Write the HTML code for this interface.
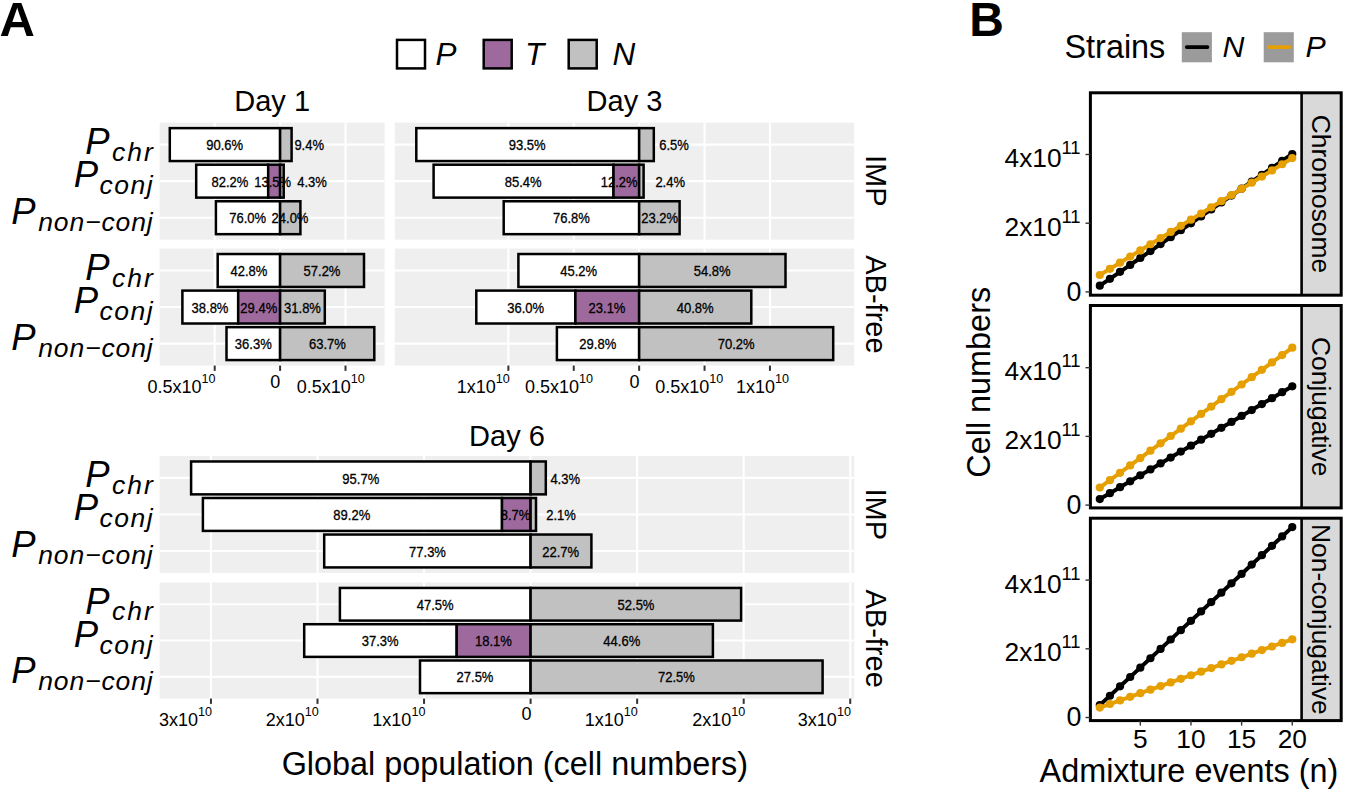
<!DOCTYPE html>
<html><head><meta charset="utf-8"><style>
html,body{margin:0;padding:0;background:#fff;}
svg{display:block;}
text{font-family:"Liberation Sans", sans-serif;fill:#000;}
</style></head><body>
<svg width="1345" height="789" viewBox="0 0 1345 789">
<rect width="1345" height="789" fill="#fff"/>
<text x="-0.40" y="35.70" font-size="49" text-anchor="start" font-weight="bold">A</text>
<rect x="397.0" y="39.9" width="28" height="28.5" fill="#FFFFFF" stroke="#000" stroke-width="2.5"/>
<text x="435.50" y="65.00" font-size="31.5" text-anchor="start" font-style="italic">P</text>
<rect x="483.7" y="39.9" width="28" height="28.5" fill="#9E6A9E" stroke="#000" stroke-width="2.5"/>
<text x="524.90" y="65.00" font-size="31.5" text-anchor="start" font-style="italic">T</text>
<rect x="568.7" y="39.9" width="28" height="28.5" fill="#C1C1C1" stroke="#000" stroke-width="2.5"/>
<text x="612.40" y="65.00" font-size="31.5" text-anchor="start" font-style="italic">N</text>
<rect x="159.6" y="122.65" width="225.00" height="117.00" fill="#EFEFEF"/>
<line x1="159.6" x2="384.6" y1="144.59" y2="144.59" stroke="#fff" stroke-width="2.1"/>
<line x1="159.6" x2="384.6" y1="181.15" y2="181.15" stroke="#fff" stroke-width="2.1"/>
<line x1="159.6" x2="384.6" y1="217.71" y2="217.71" stroke="#fff" stroke-width="2.1"/>
<line x1="214.70" x2="214.70" y1="122.65" y2="239.65" stroke="#fff" stroke-width="2.1"/>
<line x1="280.10" x2="280.10" y1="122.65" y2="239.65" stroke="#fff" stroke-width="2.1"/>
<line x1="345.50" x2="345.50" y1="122.65" y2="239.65" stroke="#fff" stroke-width="2.1"/>
<rect x="169.80" y="128.13" width="110.30" height="32.91" fill="#fff" stroke="#000" stroke-width="2.5"/>
<rect x="280.10" y="128.13" width="11.50" height="32.91" fill="#C1C1C1" stroke="#000" stroke-width="2.5"/>
<rect x="196.20" y="164.70" width="72.00" height="32.91" fill="#fff" stroke="#000" stroke-width="2.5"/>
<rect x="268.20" y="164.70" width="11.90" height="32.91" fill="#9E6A9E" stroke="#000" stroke-width="2.5"/>
<rect x="280.10" y="164.70" width="3.60" height="32.91" fill="#C1C1C1" stroke="#000" stroke-width="2.5"/>
<rect x="215.90" y="201.26" width="64.20" height="32.91" fill="#fff" stroke="#000" stroke-width="2.5"/>
<rect x="280.10" y="201.26" width="20.30" height="32.91" fill="#C1C1C1" stroke="#000" stroke-width="2.5"/>
<text transform="translate(224.60,150.19) scale(0.93,1)" font-size="14" text-anchor="middle" stroke="#000" stroke-width="0.3">90.6%</text>
<text transform="translate(309.20,150.19) scale(0.93,1)" font-size="14" text-anchor="middle" stroke="#000" stroke-width="0.3">9.4%</text>
<text transform="translate(229.90,186.75) scale(0.93,1)" font-size="14" text-anchor="middle" stroke="#000" stroke-width="0.3">82.2%</text>
<text transform="translate(272.60,186.75) scale(0.93,1)" font-size="14" text-anchor="middle" stroke="#000" stroke-width="0.3">13.5%</text>
<text transform="translate(312.10,186.75) scale(0.93,1)" font-size="14" text-anchor="middle" stroke="#000" stroke-width="0.3">4.3%</text>
<text transform="translate(247.70,223.31) scale(0.93,1)" font-size="14" text-anchor="middle" stroke="#000" stroke-width="0.3">76.0%</text>
<text transform="translate(290.00,223.31) scale(0.93,1)" font-size="14" text-anchor="middle" stroke="#000" stroke-width="0.3">24.0%</text>
<rect x="159.6" y="248.55" width="225.00" height="117.00" fill="#EFEFEF"/>
<line x1="159.6" x2="384.6" y1="270.49" y2="270.49" stroke="#fff" stroke-width="2.1"/>
<line x1="159.6" x2="384.6" y1="307.05" y2="307.05" stroke="#fff" stroke-width="2.1"/>
<line x1="159.6" x2="384.6" y1="343.61" y2="343.61" stroke="#fff" stroke-width="2.1"/>
<line x1="214.70" x2="214.70" y1="248.55" y2="365.55" stroke="#fff" stroke-width="2.1"/>
<line x1="280.10" x2="280.10" y1="248.55" y2="365.55" stroke="#fff" stroke-width="2.1"/>
<line x1="345.50" x2="345.50" y1="248.55" y2="365.55" stroke="#fff" stroke-width="2.1"/>
<rect x="217.70" y="254.03" width="62.40" height="32.91" fill="#fff" stroke="#000" stroke-width="2.5"/>
<rect x="280.10" y="254.03" width="83.90" height="32.91" fill="#C1C1C1" stroke="#000" stroke-width="2.5"/>
<rect x="182.40" y="290.60" width="55.80" height="32.91" fill="#fff" stroke="#000" stroke-width="2.5"/>
<rect x="238.20" y="290.60" width="41.90" height="32.91" fill="#9E6A9E" stroke="#000" stroke-width="2.5"/>
<rect x="280.10" y="290.60" width="44.70" height="32.91" fill="#C1C1C1" stroke="#000" stroke-width="2.5"/>
<rect x="226.50" y="327.16" width="53.60" height="32.91" fill="#fff" stroke="#000" stroke-width="2.5"/>
<rect x="280.10" y="327.16" width="94.20" height="32.91" fill="#C1C1C1" stroke="#000" stroke-width="2.5"/>
<text transform="translate(248.90,276.09) scale(0.93,1)" font-size="14" text-anchor="middle" stroke="#000" stroke-width="0.3">42.8%</text>
<text transform="translate(322.00,276.09) scale(0.93,1)" font-size="14" text-anchor="middle" stroke="#000" stroke-width="0.3">57.2%</text>
<text transform="translate(210.00,312.65) scale(0.93,1)" font-size="14" text-anchor="middle" stroke="#000" stroke-width="0.3">38.8%</text>
<text transform="translate(258.80,312.65) scale(0.93,1)" font-size="14" text-anchor="middle" stroke="#000" stroke-width="0.3">29.4%</text>
<text transform="translate(302.50,312.65) scale(0.93,1)" font-size="14" text-anchor="middle" stroke="#000" stroke-width="0.3">31.8%</text>
<text transform="translate(253.30,349.21) scale(0.93,1)" font-size="14" text-anchor="middle" stroke="#000" stroke-width="0.3">36.3%</text>
<text transform="translate(327.40,349.21) scale(0.93,1)" font-size="14" text-anchor="middle" stroke="#000" stroke-width="0.3">63.7%</text>
<rect x="394.8" y="122.65" width="459.40" height="117.00" fill="#EFEFEF"/>
<line x1="394.8" x2="854.2" y1="144.59" y2="144.59" stroke="#fff" stroke-width="2.1"/>
<line x1="394.8" x2="854.2" y1="181.15" y2="181.15" stroke="#fff" stroke-width="2.1"/>
<line x1="394.8" x2="854.2" y1="217.71" y2="217.71" stroke="#fff" stroke-width="2.1"/>
<line x1="508.35" x2="508.35" y1="122.65" y2="239.65" stroke="#fff" stroke-width="2.1"/>
<line x1="573.75" x2="573.75" y1="122.65" y2="239.65" stroke="#fff" stroke-width="2.1"/>
<line x1="639.15" x2="639.15" y1="122.65" y2="239.65" stroke="#fff" stroke-width="2.1"/>
<line x1="704.55" x2="704.55" y1="122.65" y2="239.65" stroke="#fff" stroke-width="2.1"/>
<line x1="769.95" x2="769.95" y1="122.65" y2="239.65" stroke="#fff" stroke-width="2.1"/>
<rect x="416.30" y="128.13" width="222.85" height="32.91" fill="#fff" stroke="#000" stroke-width="2.5"/>
<rect x="639.15" y="128.13" width="14.65" height="32.91" fill="#C1C1C1" stroke="#000" stroke-width="2.5"/>
<rect x="433.60" y="164.70" width="179.90" height="32.91" fill="#fff" stroke="#000" stroke-width="2.5"/>
<rect x="613.50" y="164.70" width="25.65" height="32.91" fill="#9E6A9E" stroke="#000" stroke-width="2.5"/>
<rect x="639.15" y="164.70" width="4.45" height="32.91" fill="#C1C1C1" stroke="#000" stroke-width="2.5"/>
<rect x="503.70" y="201.26" width="135.45" height="32.91" fill="#fff" stroke="#000" stroke-width="2.5"/>
<rect x="639.15" y="201.26" width="40.45" height="32.91" fill="#C1C1C1" stroke="#000" stroke-width="2.5"/>
<text transform="translate(527.20,150.19) scale(0.93,1)" font-size="14" text-anchor="middle" stroke="#000" stroke-width="0.3">93.5%</text>
<text transform="translate(674.00,150.19) scale(0.93,1)" font-size="14" text-anchor="middle" stroke="#000" stroke-width="0.3">6.5%</text>
<text transform="translate(523.20,186.75) scale(0.93,1)" font-size="14" text-anchor="middle" stroke="#000" stroke-width="0.3">85.4%</text>
<text transform="translate(619.10,186.75) scale(0.93,1)" font-size="14" text-anchor="middle" stroke="#000" stroke-width="0.3">12.2%</text>
<text transform="translate(670.20,186.75) scale(0.93,1)" font-size="14" text-anchor="middle" stroke="#000" stroke-width="0.3">2.4%</text>
<text transform="translate(571.40,223.31) scale(0.93,1)" font-size="14" text-anchor="middle" stroke="#000" stroke-width="0.3">76.8%</text>
<text transform="translate(659.60,223.31) scale(0.93,1)" font-size="14" text-anchor="middle" stroke="#000" stroke-width="0.3">23.2%</text>
<rect x="394.8" y="248.55" width="459.40" height="117.00" fill="#EFEFEF"/>
<line x1="394.8" x2="854.2" y1="270.49" y2="270.49" stroke="#fff" stroke-width="2.1"/>
<line x1="394.8" x2="854.2" y1="307.05" y2="307.05" stroke="#fff" stroke-width="2.1"/>
<line x1="394.8" x2="854.2" y1="343.61" y2="343.61" stroke="#fff" stroke-width="2.1"/>
<line x1="508.35" x2="508.35" y1="248.55" y2="365.55" stroke="#fff" stroke-width="2.1"/>
<line x1="573.75" x2="573.75" y1="248.55" y2="365.55" stroke="#fff" stroke-width="2.1"/>
<line x1="639.15" x2="639.15" y1="248.55" y2="365.55" stroke="#fff" stroke-width="2.1"/>
<line x1="704.55" x2="704.55" y1="248.55" y2="365.55" stroke="#fff" stroke-width="2.1"/>
<line x1="769.95" x2="769.95" y1="248.55" y2="365.55" stroke="#fff" stroke-width="2.1"/>
<rect x="518.40" y="254.03" width="120.75" height="32.91" fill="#fff" stroke="#000" stroke-width="2.5"/>
<rect x="639.15" y="254.03" width="146.35" height="32.91" fill="#C1C1C1" stroke="#000" stroke-width="2.5"/>
<rect x="476.30" y="290.60" width="99.10" height="32.91" fill="#fff" stroke="#000" stroke-width="2.5"/>
<rect x="575.40" y="290.60" width="63.75" height="32.91" fill="#9E6A9E" stroke="#000" stroke-width="2.5"/>
<rect x="639.15" y="290.60" width="112.15" height="32.91" fill="#C1C1C1" stroke="#000" stroke-width="2.5"/>
<rect x="556.90" y="327.16" width="82.25" height="32.91" fill="#fff" stroke="#000" stroke-width="2.5"/>
<rect x="639.15" y="327.16" width="194.05" height="32.91" fill="#C1C1C1" stroke="#000" stroke-width="2.5"/>
<text transform="translate(578.70,276.09) scale(0.93,1)" font-size="14" text-anchor="middle" stroke="#000" stroke-width="0.3">45.2%</text>
<text transform="translate(712.20,276.09) scale(0.93,1)" font-size="14" text-anchor="middle" stroke="#000" stroke-width="0.3">54.8%</text>
<text transform="translate(525.70,312.65) scale(0.93,1)" font-size="14" text-anchor="middle" stroke="#000" stroke-width="0.3">36.0%</text>
<text transform="translate(607.00,312.65) scale(0.93,1)" font-size="14" text-anchor="middle" stroke="#000" stroke-width="0.3">23.1%</text>
<text transform="translate(695.20,312.65) scale(0.93,1)" font-size="14" text-anchor="middle" stroke="#000" stroke-width="0.3">40.8%</text>
<text transform="translate(597.80,349.21) scale(0.93,1)" font-size="14" text-anchor="middle" stroke="#000" stroke-width="0.3">29.8%</text>
<text transform="translate(736.10,349.21) scale(0.93,1)" font-size="14" text-anchor="middle" stroke="#000" stroke-width="0.3">70.2%</text>
<rect x="159.6" y="456.0" width="694.70" height="116.90" fill="#EFEFEF"/>
<line x1="159.6" x2="854.3" y1="477.92" y2="477.92" stroke="#fff" stroke-width="2.1"/>
<line x1="159.6" x2="854.3" y1="514.45" y2="514.45" stroke="#fff" stroke-width="2.1"/>
<line x1="159.6" x2="854.3" y1="550.98" y2="550.98" stroke="#fff" stroke-width="2.1"/>
<line x1="210.95" x2="210.95" y1="456.0" y2="572.9" stroke="#fff" stroke-width="2.1"/>
<line x1="317.50" x2="317.50" y1="456.0" y2="572.9" stroke="#fff" stroke-width="2.1"/>
<line x1="424.05" x2="424.05" y1="456.0" y2="572.9" stroke="#fff" stroke-width="2.1"/>
<line x1="530.60" x2="530.60" y1="456.0" y2="572.9" stroke="#fff" stroke-width="2.1"/>
<line x1="637.15" x2="637.15" y1="456.0" y2="572.9" stroke="#fff" stroke-width="2.1"/>
<line x1="743.70" x2="743.70" y1="456.0" y2="572.9" stroke="#fff" stroke-width="2.1"/>
<line x1="850.25" x2="850.25" y1="456.0" y2="572.9" stroke="#fff" stroke-width="2.1"/>
<rect x="191.10" y="461.48" width="339.50" height="32.88" fill="#fff" stroke="#000" stroke-width="2.5"/>
<rect x="530.60" y="461.48" width="15.20" height="32.88" fill="#C1C1C1" stroke="#000" stroke-width="2.5"/>
<rect x="202.90" y="498.01" width="299.10" height="32.88" fill="#fff" stroke="#000" stroke-width="2.5"/>
<rect x="502.00" y="498.01" width="28.60" height="32.88" fill="#9E6A9E" stroke="#000" stroke-width="2.5"/>
<rect x="530.60" y="498.01" width="5.40" height="32.88" fill="#C1C1C1" stroke="#000" stroke-width="2.5"/>
<rect x="324.20" y="534.54" width="206.40" height="32.88" fill="#fff" stroke="#000" stroke-width="2.5"/>
<rect x="530.60" y="534.54" width="60.80" height="32.88" fill="#C1C1C1" stroke="#000" stroke-width="2.5"/>
<text transform="translate(360.80,483.52) scale(0.93,1)" font-size="14" text-anchor="middle" stroke="#000" stroke-width="0.3">95.7%</text>
<text transform="translate(565.20,483.52) scale(0.93,1)" font-size="14" text-anchor="middle" stroke="#000" stroke-width="0.3">4.3%</text>
<text transform="translate(351.80,520.05) scale(0.93,1)" font-size="14" text-anchor="middle" stroke="#000" stroke-width="0.3">89.2%</text>
<text transform="translate(515.50,520.05) scale(0.93,1)" font-size="14" text-anchor="middle" stroke="#000" stroke-width="0.3">8.7%</text>
<text transform="translate(561.00,520.05) scale(0.93,1)" font-size="14" text-anchor="middle" stroke="#000" stroke-width="0.3">2.1%</text>
<text transform="translate(427.50,556.58) scale(0.93,1)" font-size="14" text-anchor="middle" stroke="#000" stroke-width="0.3">77.3%</text>
<text transform="translate(560.70,556.58) scale(0.93,1)" font-size="14" text-anchor="middle" stroke="#000" stroke-width="0.3">22.7%</text>
<rect x="159.6" y="582.5" width="694.70" height="116.10" fill="#EFEFEF"/>
<line x1="159.6" x2="854.3" y1="604.27" y2="604.27" stroke="#fff" stroke-width="2.1"/>
<line x1="159.6" x2="854.3" y1="640.55" y2="640.55" stroke="#fff" stroke-width="2.1"/>
<line x1="159.6" x2="854.3" y1="676.83" y2="676.83" stroke="#fff" stroke-width="2.1"/>
<line x1="210.95" x2="210.95" y1="582.5" y2="698.6" stroke="#fff" stroke-width="2.1"/>
<line x1="317.50" x2="317.50" y1="582.5" y2="698.6" stroke="#fff" stroke-width="2.1"/>
<line x1="424.05" x2="424.05" y1="582.5" y2="698.6" stroke="#fff" stroke-width="2.1"/>
<line x1="530.60" x2="530.60" y1="582.5" y2="698.6" stroke="#fff" stroke-width="2.1"/>
<line x1="637.15" x2="637.15" y1="582.5" y2="698.6" stroke="#fff" stroke-width="2.1"/>
<line x1="743.70" x2="743.70" y1="582.5" y2="698.6" stroke="#fff" stroke-width="2.1"/>
<line x1="850.25" x2="850.25" y1="582.5" y2="698.6" stroke="#fff" stroke-width="2.1"/>
<rect x="339.90" y="587.94" width="190.70" height="32.65" fill="#fff" stroke="#000" stroke-width="2.5"/>
<rect x="530.60" y="587.94" width="210.50" height="32.65" fill="#C1C1C1" stroke="#000" stroke-width="2.5"/>
<rect x="304.20" y="624.22" width="152.50" height="32.65" fill="#fff" stroke="#000" stroke-width="2.5"/>
<rect x="456.70" y="624.22" width="73.90" height="32.65" fill="#9E6A9E" stroke="#000" stroke-width="2.5"/>
<rect x="530.60" y="624.22" width="182.30" height="32.65" fill="#C1C1C1" stroke="#000" stroke-width="2.5"/>
<rect x="420.00" y="660.50" width="110.60" height="32.65" fill="#fff" stroke="#000" stroke-width="2.5"/>
<rect x="530.60" y="660.50" width="292.00" height="32.65" fill="#C1C1C1" stroke="#000" stroke-width="2.5"/>
<text transform="translate(435.20,609.87) scale(0.93,1)" font-size="14" text-anchor="middle" stroke="#000" stroke-width="0.3">47.5%</text>
<text transform="translate(636.00,609.87) scale(0.93,1)" font-size="14" text-anchor="middle" stroke="#000" stroke-width="0.3">52.5%</text>
<text transform="translate(380.20,646.15) scale(0.93,1)" font-size="14" text-anchor="middle" stroke="#000" stroke-width="0.3">37.3%</text>
<text transform="translate(493.40,646.15) scale(0.93,1)" font-size="14" text-anchor="middle" stroke="#000" stroke-width="0.3">18.1%</text>
<text transform="translate(621.80,646.15) scale(0.93,1)" font-size="14" text-anchor="middle" stroke="#000" stroke-width="0.3">44.6%</text>
<text transform="translate(475.00,682.43) scale(0.93,1)" font-size="14" text-anchor="middle" stroke="#000" stroke-width="0.3">27.5%</text>
<text transform="translate(676.40,682.43) scale(0.93,1)" font-size="14" text-anchor="middle" stroke="#000" stroke-width="0.3">72.5%</text>
<text x="272.15" y="111.20" font-size="29" text-anchor="middle">Day 1</text>
<text x="624.50" y="111.20" font-size="29" text-anchor="middle">Day 3</text>
<text x="507.00" y="445.80" font-size="29" text-anchor="middle">Day 6</text>
<text transform="translate(866.00,180.70) rotate(90)" font-size="29" text-anchor="middle">IMP</text>
<text transform="translate(866.00,304.40) rotate(90)" font-size="29" text-anchor="middle">AB-free</text>
<text transform="translate(866.00,514.30) rotate(90)" font-size="29" text-anchor="middle">IMP</text>
<text transform="translate(866.00,638.60) rotate(90)" font-size="29" text-anchor="middle">AB-free</text>
<text x="85.28" y="153.80" font-size="36.5" font-style="italic">P</text>
<text x="112.03" y="160.70" font-size="26.5" font-style="italic" letter-spacing="2.0">chr</text>
<text x="73.78" y="187.20" font-size="36.5" font-style="italic">P</text>
<text x="99.53" y="194.10" font-size="26.5" font-style="italic" letter-spacing="1.5">conj</text>
<text x="11.28" y="223.80" font-size="36.5" font-style="italic">P</text>
<text x="38.16" y="230.70" font-size="26.5" font-style="italic" letter-spacing="0.9">non−conj</text>
<text x="85.28" y="279.70" font-size="36.5" font-style="italic">P</text>
<text x="112.03" y="286.60" font-size="26.5" font-style="italic" letter-spacing="2.0">chr</text>
<text x="73.78" y="313.10" font-size="36.5" font-style="italic">P</text>
<text x="99.53" y="320.00" font-size="26.5" font-style="italic" letter-spacing="1.5">conj</text>
<text x="11.28" y="349.80" font-size="36.5" font-style="italic">P</text>
<text x="38.16" y="356.70" font-size="26.5" font-style="italic" letter-spacing="0.9">non−conj</text>
<text x="85.28" y="487.10" font-size="36.5" font-style="italic">P</text>
<text x="112.03" y="494.00" font-size="26.5" font-style="italic" letter-spacing="2.0">chr</text>
<text x="73.78" y="520.40" font-size="36.5" font-style="italic">P</text>
<text x="99.53" y="527.30" font-size="26.5" font-style="italic" letter-spacing="1.5">conj</text>
<text x="11.28" y="557.00" font-size="36.5" font-style="italic">P</text>
<text x="38.16" y="563.90" font-size="26.5" font-style="italic" letter-spacing="0.9">non−conj</text>
<text x="85.28" y="613.50" font-size="36.5" font-style="italic">P</text>
<text x="112.03" y="620.40" font-size="26.5" font-style="italic" letter-spacing="2.0">chr</text>
<text x="73.78" y="646.60" font-size="36.5" font-style="italic">P</text>
<text x="99.53" y="653.50" font-size="26.5" font-style="italic" letter-spacing="1.5">conj</text>
<text x="11.28" y="683.00" font-size="36.5" font-style="italic">P</text>
<text x="38.16" y="689.90" font-size="26.5" font-style="italic" letter-spacing="0.9">non−conj</text>
<line x1="214.70" x2="214.70" y1="365.55" y2="370.85" stroke="#333" stroke-width="2"/>
<line x1="280.10" x2="280.10" y1="365.55" y2="370.85" stroke="#333" stroke-width="2"/>
<line x1="345.50" x2="345.50" y1="365.55" y2="370.85" stroke="#333" stroke-width="2"/>
<line x1="508.35" x2="508.35" y1="365.55" y2="370.85" stroke="#333" stroke-width="2"/>
<line x1="573.75" x2="573.75" y1="365.55" y2="370.85" stroke="#333" stroke-width="2"/>
<line x1="639.15" x2="639.15" y1="365.55" y2="370.85" stroke="#333" stroke-width="2"/>
<line x1="704.55" x2="704.55" y1="365.55" y2="370.85" stroke="#333" stroke-width="2"/>
<line x1="769.95" x2="769.95" y1="365.55" y2="370.85" stroke="#333" stroke-width="2"/>
<line x1="210.95" x2="210.95" y1="698.6" y2="703.9" stroke="#333" stroke-width="2"/>
<line x1="317.50" x2="317.50" y1="698.6" y2="703.9" stroke="#333" stroke-width="2"/>
<line x1="424.05" x2="424.05" y1="698.6" y2="703.9" stroke="#333" stroke-width="2"/>
<line x1="530.60" x2="530.60" y1="698.6" y2="703.9" stroke="#333" stroke-width="2"/>
<line x1="637.15" x2="637.15" y1="698.6" y2="703.9" stroke="#333" stroke-width="2"/>
<line x1="743.70" x2="743.70" y1="698.6" y2="703.9" stroke="#333" stroke-width="2"/>
<line x1="850.25" x2="850.25" y1="698.6" y2="703.9" stroke="#333" stroke-width="2"/>
<text x="215.50" y="392.50" font-size="18" text-anchor="end">0.5x10<tspan font-size="12.6" dy="-10">10</tspan></text>
<text x="280.20" y="388.20" font-size="18" text-anchor="end">0</text>
<text x="364.80" y="392.50" font-size="18" text-anchor="end">0.5x10<tspan font-size="12.6" dy="-10">10</tspan></text>
<text x="509.80" y="392.50" font-size="18" text-anchor="end">1x10<tspan font-size="12.6" dy="-10">10</tspan></text>
<text x="593.00" y="392.50" font-size="18" text-anchor="end">0.5x10<tspan font-size="12.6" dy="-10">10</tspan></text>
<text x="639.60" y="388.20" font-size="18" text-anchor="end">0</text>
<text x="723.30" y="392.50" font-size="18" text-anchor="end">0.5x10<tspan font-size="12.6" dy="-10">10</tspan></text>
<text x="789.00" y="392.50" font-size="18" text-anchor="end">1x10<tspan font-size="12.6" dy="-10">10</tspan></text>
<text x="212.10" y="725.50" font-size="18" text-anchor="end">3x10<tspan font-size="12.6" dy="-10">10</tspan></text>
<text x="318.70" y="725.50" font-size="18" text-anchor="end">2x10<tspan font-size="12.6" dy="-10">10</tspan></text>
<text x="425.40" y="725.50" font-size="18" text-anchor="end">1x10<tspan font-size="12.6" dy="-10">10</tspan></text>
<text x="531.60" y="720.00" font-size="18" text-anchor="end">0</text>
<text x="637.70" y="725.50" font-size="18" text-anchor="end">1x10<tspan font-size="12.6" dy="-10">10</tspan></text>
<text x="745.30" y="725.50" font-size="18" text-anchor="end">2x10<tspan font-size="12.6" dy="-10">10</tspan></text>
<text x="850.90" y="725.50" font-size="18" text-anchor="end">3x10<tspan font-size="12.6" dy="-10">10</tspan></text>
<text x="514.80" y="775.20" font-size="32.4" text-anchor="middle">Global population (cell numbers)</text>
<text x="969.30" y="36.10" font-size="48" text-anchor="start" font-weight="bold">B</text>
<text x="1064.50" y="58.20" font-size="32.4" text-anchor="start">Strains</text>
<rect x="1181.8" y="32.2" width="30.1" height="30.1" fill="#9B9B9B"/>
<line x1="1186.8" x2="1207.4" y1="47.1" y2="47.1" stroke="#000" stroke-width="3.8" stroke-linecap="round"/>
<text x="1222.50" y="57.40" font-size="30.3" text-anchor="start" font-style="italic">N</text>
<rect x="1263.7" y="32.2" width="30.1" height="30.1" fill="#9B9B9B"/>
<line x1="1268.7" x2="1289.3" y1="47.1" y2="47.1" stroke="#E69F00" stroke-width="3.8" stroke-linecap="round"/>
<text x="1305.40" y="57.40" font-size="30.3" text-anchor="start" font-style="italic">P</text>
<rect x="1090.4" y="92.8" width="211.20" height="202.4" fill="#fff"/>
<rect x="1301.6" y="92.8" width="39.60" height="202.4" fill="#D9D9D9"/>
<polyline points="1099.80,285.72 1109.93,278.78 1120.06,271.85 1130.19,264.92 1140.32,257.98 1150.45,251.05 1160.58,244.12 1170.71,237.18 1180.84,230.25 1190.97,223.32 1201.10,216.38 1211.23,209.45 1221.36,202.52 1231.49,195.58 1241.62,188.65 1251.75,181.72 1261.88,174.78 1272.01,167.85 1282.14,160.92 1292.27,153.98" fill="none" stroke="#000" stroke-width="4" stroke-linejoin="round" stroke-linecap="round"/>
<circle cx="1099.80" cy="285.72" r="4.1" fill="#000"/>
<circle cx="1109.93" cy="278.78" r="4.1" fill="#000"/>
<circle cx="1120.06" cy="271.85" r="4.1" fill="#000"/>
<circle cx="1130.19" cy="264.92" r="4.1" fill="#000"/>
<circle cx="1140.32" cy="257.98" r="4.1" fill="#000"/>
<circle cx="1150.45" cy="251.05" r="4.1" fill="#000"/>
<circle cx="1160.58" cy="244.12" r="4.1" fill="#000"/>
<circle cx="1170.71" cy="237.18" r="4.1" fill="#000"/>
<circle cx="1180.84" cy="230.25" r="4.1" fill="#000"/>
<circle cx="1190.97" cy="223.32" r="4.1" fill="#000"/>
<circle cx="1201.10" cy="216.38" r="4.1" fill="#000"/>
<circle cx="1211.23" cy="209.45" r="4.1" fill="#000"/>
<circle cx="1221.36" cy="202.52" r="4.1" fill="#000"/>
<circle cx="1231.49" cy="195.58" r="4.1" fill="#000"/>
<circle cx="1241.62" cy="188.65" r="4.1" fill="#000"/>
<circle cx="1251.75" cy="181.72" r="4.1" fill="#000"/>
<circle cx="1261.88" cy="174.78" r="4.1" fill="#000"/>
<circle cx="1272.01" cy="167.85" r="4.1" fill="#000"/>
<circle cx="1282.14" cy="160.92" r="4.1" fill="#000"/>
<circle cx="1292.27" cy="153.98" r="4.1" fill="#000"/>
<polyline points="1099.80,275.00 1109.93,268.85 1120.06,262.70 1130.19,256.54 1140.32,250.39 1150.45,244.24 1160.58,238.09 1170.71,231.93 1180.84,225.78 1190.97,219.63 1201.10,213.48 1211.23,207.32 1221.36,201.17 1231.49,195.02 1241.62,188.87 1251.75,182.72 1261.88,176.56 1272.01,170.41 1282.14,164.26 1292.27,158.11" fill="none" stroke="#E69F00" stroke-width="4" stroke-linejoin="round" stroke-linecap="round"/>
<circle cx="1099.80" cy="275.00" r="4.1" fill="#E69F00"/>
<circle cx="1109.93" cy="268.85" r="4.1" fill="#E69F00"/>
<circle cx="1120.06" cy="262.70" r="4.1" fill="#E69F00"/>
<circle cx="1130.19" cy="256.54" r="4.1" fill="#E69F00"/>
<circle cx="1140.32" cy="250.39" r="4.1" fill="#E69F00"/>
<circle cx="1150.45" cy="244.24" r="4.1" fill="#E69F00"/>
<circle cx="1160.58" cy="238.09" r="4.1" fill="#E69F00"/>
<circle cx="1170.71" cy="231.93" r="4.1" fill="#E69F00"/>
<circle cx="1180.84" cy="225.78" r="4.1" fill="#E69F00"/>
<circle cx="1190.97" cy="219.63" r="4.1" fill="#E69F00"/>
<circle cx="1201.10" cy="213.48" r="4.1" fill="#E69F00"/>
<circle cx="1211.23" cy="207.32" r="4.1" fill="#E69F00"/>
<circle cx="1221.36" cy="201.17" r="4.1" fill="#E69F00"/>
<circle cx="1231.49" cy="195.02" r="4.1" fill="#E69F00"/>
<circle cx="1241.62" cy="188.87" r="4.1" fill="#E69F00"/>
<circle cx="1251.75" cy="182.72" r="4.1" fill="#E69F00"/>
<circle cx="1261.88" cy="176.56" r="4.1" fill="#E69F00"/>
<circle cx="1272.01" cy="170.41" r="4.1" fill="#E69F00"/>
<circle cx="1282.14" cy="164.26" r="4.1" fill="#E69F00"/>
<circle cx="1292.27" cy="158.11" r="4.1" fill="#E69F00"/>
<rect x="1090.4" y="92.8" width="250.80" height="202.4" fill="none" stroke="#000" stroke-width="3"/>
<line x1="1301.6" x2="1301.6" y1="92.8" y2="295.2" stroke="#000" stroke-width="2.6"/>
<text transform="translate(1311.60,194.00) rotate(90)" font-size="26.4" text-anchor="middle">Chromosome</text>
<line x1="1085.5" x2="1090.4" y1="291.90" y2="291.90" stroke="#333" stroke-width="1.4"/>
<text x="1081.40" y="300.60" font-size="26.8" text-anchor="end">0</text>
<line x1="1085.5" x2="1090.4" y1="223.20" y2="223.20" stroke="#333" stroke-width="1.4"/>
<text x="1004.6" y="235.80" font-size="26.3">2x10</text>
<text x="1061.4" y="222.60" font-size="18.4">11</text>
<line x1="1085.5" x2="1090.4" y1="154.50" y2="154.50" stroke="#333" stroke-width="1.4"/>
<text x="1004.6" y="167.10" font-size="26.3">4x10</text>
<text x="1061.4" y="153.90" font-size="18.4">11</text>
<rect x="1090.4" y="305.5" width="211.20" height="202.4" fill="#fff"/>
<rect x="1301.6" y="305.5" width="39.60" height="202.4" fill="#D9D9D9"/>
<polyline points="1099.80,499.09 1109.93,493.15 1120.06,487.21 1130.19,481.28 1140.32,475.34 1150.45,469.40 1160.58,463.47 1170.71,457.53 1180.84,451.59 1190.97,445.65 1201.10,439.72 1211.23,433.78 1221.36,427.84 1231.49,421.91 1241.62,415.97 1251.75,410.03 1261.88,404.09 1272.01,398.16 1282.14,392.22 1292.27,386.28" fill="none" stroke="#000" stroke-width="4" stroke-linejoin="round" stroke-linecap="round"/>
<circle cx="1099.80" cy="499.09" r="4.1" fill="#000"/>
<circle cx="1109.93" cy="493.15" r="4.1" fill="#000"/>
<circle cx="1120.06" cy="487.21" r="4.1" fill="#000"/>
<circle cx="1130.19" cy="481.28" r="4.1" fill="#000"/>
<circle cx="1140.32" cy="475.34" r="4.1" fill="#000"/>
<circle cx="1150.45" cy="469.40" r="4.1" fill="#000"/>
<circle cx="1160.58" cy="463.47" r="4.1" fill="#000"/>
<circle cx="1170.71" cy="457.53" r="4.1" fill="#000"/>
<circle cx="1180.84" cy="451.59" r="4.1" fill="#000"/>
<circle cx="1190.97" cy="445.65" r="4.1" fill="#000"/>
<circle cx="1201.10" cy="439.72" r="4.1" fill="#000"/>
<circle cx="1211.23" cy="433.78" r="4.1" fill="#000"/>
<circle cx="1221.36" cy="427.84" r="4.1" fill="#000"/>
<circle cx="1231.49" cy="421.91" r="4.1" fill="#000"/>
<circle cx="1241.62" cy="415.97" r="4.1" fill="#000"/>
<circle cx="1251.75" cy="410.03" r="4.1" fill="#000"/>
<circle cx="1261.88" cy="404.09" r="4.1" fill="#000"/>
<circle cx="1272.01" cy="398.16" r="4.1" fill="#000"/>
<circle cx="1282.14" cy="392.22" r="4.1" fill="#000"/>
<circle cx="1292.27" cy="386.28" r="4.1" fill="#000"/>
<polyline points="1099.80,487.51 1109.93,480.15 1120.06,472.80 1130.19,465.44 1140.32,458.08 1150.45,450.72 1160.58,443.36 1170.71,436.01 1180.84,428.65 1190.97,421.29 1201.10,413.93 1211.23,406.57 1221.36,399.22 1231.49,391.86 1241.62,384.50 1251.75,377.14 1261.88,369.78 1272.01,362.42 1282.14,355.07 1292.27,347.71" fill="none" stroke="#E69F00" stroke-width="4" stroke-linejoin="round" stroke-linecap="round"/>
<circle cx="1099.80" cy="487.51" r="4.1" fill="#E69F00"/>
<circle cx="1109.93" cy="480.15" r="4.1" fill="#E69F00"/>
<circle cx="1120.06" cy="472.80" r="4.1" fill="#E69F00"/>
<circle cx="1130.19" cy="465.44" r="4.1" fill="#E69F00"/>
<circle cx="1140.32" cy="458.08" r="4.1" fill="#E69F00"/>
<circle cx="1150.45" cy="450.72" r="4.1" fill="#E69F00"/>
<circle cx="1160.58" cy="443.36" r="4.1" fill="#E69F00"/>
<circle cx="1170.71" cy="436.01" r="4.1" fill="#E69F00"/>
<circle cx="1180.84" cy="428.65" r="4.1" fill="#E69F00"/>
<circle cx="1190.97" cy="421.29" r="4.1" fill="#E69F00"/>
<circle cx="1201.10" cy="413.93" r="4.1" fill="#E69F00"/>
<circle cx="1211.23" cy="406.57" r="4.1" fill="#E69F00"/>
<circle cx="1221.36" cy="399.22" r="4.1" fill="#E69F00"/>
<circle cx="1231.49" cy="391.86" r="4.1" fill="#E69F00"/>
<circle cx="1241.62" cy="384.50" r="4.1" fill="#E69F00"/>
<circle cx="1251.75" cy="377.14" r="4.1" fill="#E69F00"/>
<circle cx="1261.88" cy="369.78" r="4.1" fill="#E69F00"/>
<circle cx="1272.01" cy="362.42" r="4.1" fill="#E69F00"/>
<circle cx="1282.14" cy="355.07" r="4.1" fill="#E69F00"/>
<circle cx="1292.27" cy="347.71" r="4.1" fill="#E69F00"/>
<rect x="1090.4" y="305.5" width="250.80" height="202.4" fill="none" stroke="#000" stroke-width="3"/>
<line x1="1301.6" x2="1301.6" y1="305.5" y2="507.9" stroke="#000" stroke-width="2.6"/>
<text transform="translate(1311.60,406.70) rotate(90)" font-size="26.4" text-anchor="middle">Conjugative</text>
<line x1="1085.5" x2="1090.4" y1="505.10" y2="505.10" stroke="#333" stroke-width="1.4"/>
<text x="1081.40" y="513.80" font-size="26.8" text-anchor="end">0</text>
<line x1="1085.5" x2="1090.4" y1="436.40" y2="436.40" stroke="#333" stroke-width="1.4"/>
<text x="1004.6" y="449.00" font-size="26.3">2x10</text>
<text x="1061.4" y="435.80" font-size="18.4">11</text>
<line x1="1085.5" x2="1090.4" y1="367.70" y2="367.70" stroke="#333" stroke-width="1.4"/>
<text x="1004.6" y="380.30" font-size="26.3">4x10</text>
<text x="1061.4" y="367.10" font-size="18.4">11</text>
<rect x="1090.4" y="518.2" width="211.20" height="202.4" fill="#fff"/>
<rect x="1301.6" y="518.2" width="39.60" height="202.4" fill="#D9D9D9"/>
<polyline points="1099.80,705.10 1109.93,695.73 1120.06,686.36 1130.19,676.99 1140.32,667.63 1150.45,658.26 1160.58,648.89 1170.71,639.52 1180.84,630.15 1190.97,620.78 1201.10,611.41 1211.23,602.05 1221.36,592.68 1231.49,583.31 1241.62,573.94 1251.75,564.57 1261.88,555.20 1272.01,545.83 1282.14,536.47 1292.27,527.10" fill="none" stroke="#000" stroke-width="4" stroke-linejoin="round" stroke-linecap="round"/>
<circle cx="1099.80" cy="705.10" r="4.1" fill="#000"/>
<circle cx="1109.93" cy="695.73" r="4.1" fill="#000"/>
<circle cx="1120.06" cy="686.36" r="4.1" fill="#000"/>
<circle cx="1130.19" cy="676.99" r="4.1" fill="#000"/>
<circle cx="1140.32" cy="667.63" r="4.1" fill="#000"/>
<circle cx="1150.45" cy="658.26" r="4.1" fill="#000"/>
<circle cx="1160.58" cy="648.89" r="4.1" fill="#000"/>
<circle cx="1170.71" cy="639.52" r="4.1" fill="#000"/>
<circle cx="1180.84" cy="630.15" r="4.1" fill="#000"/>
<circle cx="1190.97" cy="620.78" r="4.1" fill="#000"/>
<circle cx="1201.10" cy="611.41" r="4.1" fill="#000"/>
<circle cx="1211.23" cy="602.05" r="4.1" fill="#000"/>
<circle cx="1221.36" cy="592.68" r="4.1" fill="#000"/>
<circle cx="1231.49" cy="583.31" r="4.1" fill="#000"/>
<circle cx="1241.62" cy="573.94" r="4.1" fill="#000"/>
<circle cx="1251.75" cy="564.57" r="4.1" fill="#000"/>
<circle cx="1261.88" cy="555.20" r="4.1" fill="#000"/>
<circle cx="1272.01" cy="545.83" r="4.1" fill="#000"/>
<circle cx="1282.14" cy="536.47" r="4.1" fill="#000"/>
<circle cx="1292.27" cy="527.10" r="4.1" fill="#000"/>
<polyline points="1099.80,707.61 1109.93,704.01 1120.06,700.42 1130.19,696.82 1140.32,693.22 1150.45,689.63 1160.58,686.03 1170.71,682.44 1180.84,678.84 1190.97,675.24 1201.10,671.65 1211.23,668.05 1221.36,664.46 1231.49,660.86 1241.62,657.26 1251.75,653.67 1261.88,650.07 1272.01,646.48 1282.14,642.88 1292.27,639.29" fill="none" stroke="#E69F00" stroke-width="4" stroke-linejoin="round" stroke-linecap="round"/>
<circle cx="1099.80" cy="707.61" r="4.1" fill="#E69F00"/>
<circle cx="1109.93" cy="704.01" r="4.1" fill="#E69F00"/>
<circle cx="1120.06" cy="700.42" r="4.1" fill="#E69F00"/>
<circle cx="1130.19" cy="696.82" r="4.1" fill="#E69F00"/>
<circle cx="1140.32" cy="693.22" r="4.1" fill="#E69F00"/>
<circle cx="1150.45" cy="689.63" r="4.1" fill="#E69F00"/>
<circle cx="1160.58" cy="686.03" r="4.1" fill="#E69F00"/>
<circle cx="1170.71" cy="682.44" r="4.1" fill="#E69F00"/>
<circle cx="1180.84" cy="678.84" r="4.1" fill="#E69F00"/>
<circle cx="1190.97" cy="675.24" r="4.1" fill="#E69F00"/>
<circle cx="1201.10" cy="671.65" r="4.1" fill="#E69F00"/>
<circle cx="1211.23" cy="668.05" r="4.1" fill="#E69F00"/>
<circle cx="1221.36" cy="664.46" r="4.1" fill="#E69F00"/>
<circle cx="1231.49" cy="660.86" r="4.1" fill="#E69F00"/>
<circle cx="1241.62" cy="657.26" r="4.1" fill="#E69F00"/>
<circle cx="1251.75" cy="653.67" r="4.1" fill="#E69F00"/>
<circle cx="1261.88" cy="650.07" r="4.1" fill="#E69F00"/>
<circle cx="1272.01" cy="646.48" r="4.1" fill="#E69F00"/>
<circle cx="1282.14" cy="642.88" r="4.1" fill="#E69F00"/>
<circle cx="1292.27" cy="639.29" r="4.1" fill="#E69F00"/>
<rect x="1090.4" y="518.2" width="250.80" height="202.4" fill="none" stroke="#000" stroke-width="3"/>
<line x1="1301.6" x2="1301.6" y1="518.2" y2="720.6" stroke="#000" stroke-width="2.6"/>
<text transform="translate(1311.60,619.40) rotate(90)" font-size="26.4" text-anchor="middle">Non-conjugative</text>
<line x1="1085.5" x2="1090.4" y1="717.50" y2="717.50" stroke="#333" stroke-width="1.4"/>
<text x="1081.40" y="726.20" font-size="26.8" text-anchor="end">0</text>
<line x1="1085.5" x2="1090.4" y1="648.80" y2="648.80" stroke="#333" stroke-width="1.4"/>
<text x="1004.6" y="661.40" font-size="26.3">2x10</text>
<text x="1061.4" y="648.20" font-size="18.4">11</text>
<line x1="1085.5" x2="1090.4" y1="580.10" y2="580.10" stroke="#333" stroke-width="1.4"/>
<text x="1004.6" y="592.70" font-size="26.3">4x10</text>
<text x="1061.4" y="579.50" font-size="18.4">11</text>
<line x1="1140.32" x2="1140.32" y1="720.6" y2="725.6" stroke="#333" stroke-width="1.4"/>
<text x="1140.32" y="748.00" font-size="26.3" text-anchor="middle">5</text>
<line x1="1190.97" x2="1190.97" y1="720.6" y2="725.6" stroke="#333" stroke-width="1.4"/>
<text x="1190.97" y="748.00" font-size="26.3" text-anchor="middle">10</text>
<line x1="1241.62" x2="1241.62" y1="720.6" y2="725.6" stroke="#333" stroke-width="1.4"/>
<text x="1241.62" y="748.00" font-size="26.3" text-anchor="middle">15</text>
<line x1="1292.27" x2="1292.27" y1="720.6" y2="725.6" stroke="#333" stroke-width="1.4"/>
<text x="1292.27" y="748.00" font-size="26.3" text-anchor="middle">20</text>
<text x="1189.00" y="781.50" font-size="32.4" text-anchor="middle">Admixture events (n)</text>
<text transform="translate(989.6,382.3) rotate(-90)" font-size="32.4" text-anchor="middle">Cell numbers</text>
</svg></body></html>
